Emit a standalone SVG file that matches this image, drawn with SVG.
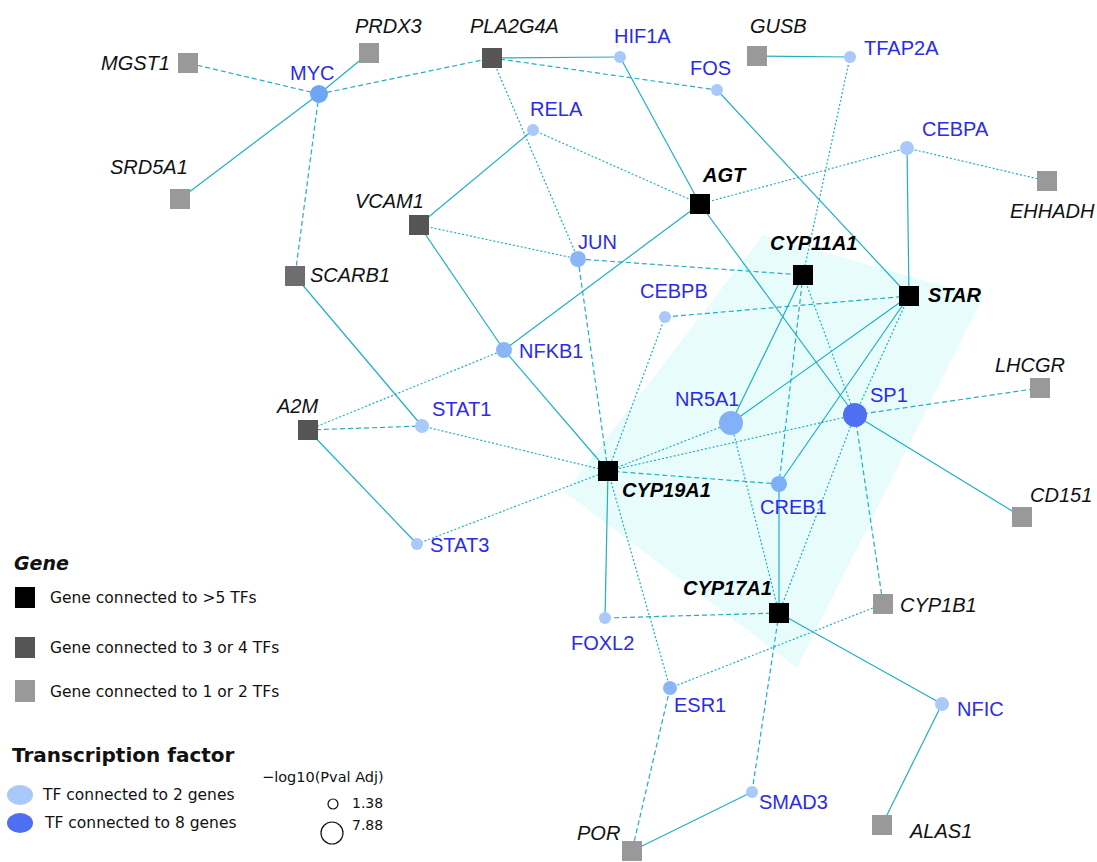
<svg xmlns="http://www.w3.org/2000/svg" width="1097" height="862" viewBox="0 0 1097 862">
<style>
.e{stroke:#1fb0c4;stroke-width:1.2;fill:none}
.d{stroke-dasharray:5 3}
.t{stroke-dasharray:2 2}
.g1{fill:#000}
.g2{fill:#555}
.g3{fill:#999}
.gl{font-family:"Liberation Sans",Arial,sans-serif;font-size:20px;font-style:italic;fill:#111}
.gb{font-family:"Liberation Sans",Arial,sans-serif;font-size:20px;font-style:italic;font-weight:bold;fill:#000}
.tl{font-family:"Liberation Sans",Arial,sans-serif;font-size:20px;fill:#2b2bea}
.c1{fill:#a9c9fa}
.c2{fill:#8ab6f8}
.c3{fill:#7eaef8}
.lg{font-family:"DejaVu Sans",Verdana,sans-serif;fill:#111}
</style>
<rect width="1097" height="862" fill="#fff"/>
<polygon id="shading" points="763,235 983,297 797,668 565,492" fill="#e9fcfc"/>
<g id="connectors">
<line class="e d" x1="319" y1="94" x2="188" y2="63"/>
<line class="e" x1="319" y1="94" x2="369" y2="53"/>
<line class="e d" x1="319" y1="94" x2="492" y2="58"/>
<line class="e" x1="319" y1="94" x2="180" y2="199"/>
<line class="e d" x1="319" y1="94" x2="295" y2="276"/>
<line class="e" x1="492" y1="58" x2="620" y2="57"/>
<line class="e d" x1="492" y1="58" x2="717" y2="90"/>
<line class="e t" x1="492" y1="58" x2="578" y2="259"/>
<line class="e" x1="620" y1="57" x2="700" y2="204"/>
<line class="e" x1="717" y1="90" x2="909" y2="296"/>
<line class="e" x1="757" y1="56" x2="850" y2="57"/>
<line class="e t" x1="850" y1="57" x2="803" y2="275"/>
<line class="e" x1="533" y1="130" x2="419" y2="225"/>
<line class="e t" x1="533" y1="130" x2="700" y2="204"/>
<line class="e t" x1="907" y1="148" x2="700" y2="204"/>
<line class="e t" x1="907" y1="148" x2="1047" y2="181"/>
<line class="e" x1="907" y1="148" x2="909" y2="296"/>
<line class="e t" x1="419" y1="225" x2="578" y2="259"/>
<line class="e" x1="419" y1="225" x2="504" y2="350"/>
<line class="e d" x1="578" y1="259" x2="803" y2="275"/>
<line class="e d" x1="578" y1="259" x2="608" y2="471"/>
<line class="e" x1="700" y1="204" x2="504" y2="350"/>
<line class="e" x1="700" y1="204" x2="855" y2="415"/>
<line class="e d" x1="665" y1="317" x2="909" y2="296"/>
<line class="e t" x1="665" y1="317" x2="608" y2="471"/>
<line class="e t" x1="504" y1="350" x2="308" y2="430"/>
<line class="e" x1="504" y1="350" x2="608" y2="471"/>
<line class="e" x1="295" y1="276" x2="422" y2="426"/>
<line class="e d" x1="308" y1="430" x2="422" y2="426"/>
<line class="e" x1="308" y1="430" x2="417" y2="544"/>
<line class="e t" x1="422" y1="426" x2="608" y2="471"/>
<line class="e t" x1="417" y1="544" x2="608" y2="471"/>
<line class="e" x1="803" y1="275" x2="731" y2="423"/>
<line class="e d" x1="803" y1="275" x2="779" y2="484"/>
<line class="e t" x1="803" y1="275" x2="855" y2="415"/>
<line class="e" x1="909" y1="296" x2="731" y2="423"/>
<line class="e" x1="909" y1="296" x2="779" y2="484"/>
<line class="e t" x1="909" y1="296" x2="855" y2="415"/>
<line class="e d" x1="855" y1="415" x2="1040" y2="388"/>
<line class="e" x1="855" y1="415" x2="1022" y2="517"/>
<line class="e t" x1="855" y1="415" x2="779" y2="613"/>
<line class="e d" x1="855" y1="415" x2="883" y2="604"/>
<line class="e t" x1="855" y1="415" x2="608" y2="471"/>
<line class="e t" x1="731" y1="423" x2="608" y2="471"/>
<line class="e t" x1="731" y1="423" x2="779" y2="613"/>
<line class="e d" x1="779" y1="484" x2="608" y2="471"/>
<line class="e" x1="779" y1="484" x2="779" y2="613"/>
<line class="e d" x1="779" y1="613" x2="605" y2="618"/>
<line class="e" x1="779" y1="613" x2="942" y2="704"/>
<line class="e d" x1="779" y1="613" x2="752" y2="792"/>
<line class="e" x1="605" y1="618" x2="608" y2="471"/>
<line class="e t" x1="670" y1="688" x2="608" y2="471"/>
<line class="e t" x1="670" y1="688" x2="883" y2="604"/>
<line class="e d" x1="670" y1="688" x2="632" y2="851"/>
<line class="e" x1="752" y1="792" x2="632" y2="851"/>
<line class="e" x1="942" y1="704" x2="882" y2="825"/>
</g>
<g id="MGST1"><rect class="g3" x="178" y="53" width="20" height="20"/><text class="gl" x="170" y="70" text-anchor="end">MGST1</text></g>
<g id="PRDX3"><rect class="g3" x="359" y="43" width="20" height="20"/><text class="gl" x="355" y="33">PRDX3</text></g>
<g id="PLA2G4A"><rect class="g2" x="482" y="48" width="20" height="20"/><text class="gl" x="470" y="33">PLA2G4A</text></g>
<g id="GUSB"><rect class="g3" x="747" y="46" width="20" height="20"/><text class="gl" x="750" y="33">GUSB</text></g>
<g id="SRD5A1"><rect class="g3" x="170" y="189" width="20" height="20"/><text class="gl" x="110" y="174">SRD5A1</text></g>
<g id="VCAM1"><rect class="g2" x="409" y="215" width="20" height="20"/><text class="gl" x="355" y="208">VCAM1</text></g>
<g id="SCARB1"><rect class="g2" x="285" y="266" width="20" height="20" style="fill:#6e6e6e"/><text class="gl" x="310" y="282">SCARB1</text></g>
<g id="AGT"><rect class="g1" x="690" y="194" width="20" height="20"/><text class="gb" x="703" y="182">AGT</text></g>
<g id="CYP11A1"><rect class="g1" x="793" y="265" width="20" height="20"/><text class="gb" x="770" y="250">CYP11A1</text></g>
<g id="STAR"><rect class="g1" x="899" y="286" width="20" height="20"/><text class="gb" x="928" y="302">STAR</text></g>
<g id="EHHADH"><rect class="g3" x="1037" y="171" width="20" height="20"/><text class="gl" x="1010" y="218">EHHADH</text></g>
<g id="LHCGR"><rect class="g3" x="1030" y="378" width="20" height="20"/><text class="gl" x="995" y="372">LHCGR</text></g>
<g id="A2M"><rect class="g2" x="298" y="420" width="20" height="20"/><text class="gl" x="277" y="413">A2M</text></g>
<g id="CYP19A1"><rect class="g1" x="598" y="461" width="20" height="20"/><text class="gb" x="622" y="497">CYP19A1</text></g>
<g id="CD151"><rect class="g3" x="1012" y="507" width="20" height="20"/><text class="gl" x="1030" y="502">CD151</text></g>
<g id="CYP17A1"><rect class="g1" x="769" y="603" width="20" height="20"/><text class="gb" x="683" y="595">CYP17A1</text></g>
<g id="CYP1B1"><rect class="g3" x="873" y="594" width="20" height="20"/><text class="gl" x="900" y="612">CYP1B1</text></g>
<g id="ALAS1"><rect class="g3" x="872" y="815" width="20" height="20"/><text class="gl" x="910" y="838">ALAS1</text></g>
<g id="POR"><rect class="g3" x="622" y="841" width="20" height="20"/><text class="gl" x="577" y="840">POR</text></g>
<g id="MYC"><circle cx="319" cy="94" r="9" fill="#6ea6f7"/><text class="tl" x="290" y="80">MYC</text></g>
<g id="HIF1A"><circle class="c1" cx="620" cy="57" r="6"/><text class="tl" x="614" y="43">HIF1A</text></g>
<g id="TFAP2A"><circle class="c1" cx="850" cy="57" r="6"/><text class="tl" x="864" y="55">TFAP2A</text></g>
<g id="FOS"><circle class="c1" cx="717" cy="90" r="6"/><text class="tl" x="690" y="75">FOS</text></g>
<g id="RELA"><circle class="c1" cx="533" cy="130" r="6"/><text class="tl" x="530" y="116">RELA</text></g>
<g id="CEBPA"><circle class="c1" cx="907" cy="148" r="7"/><text class="tl" x="922" y="136">CEBPA</text></g>
<g id="JUN"><circle class="c2" cx="578" cy="259" r="8"/><text class="tl" x="578" y="249">JUN</text></g>
<g id="CEBPB"><circle class="c1" cx="665" cy="317" r="6"/><text class="tl" x="640" y="298">CEBPB</text></g>
<g id="NFKB1"><circle class="c2" cx="504" cy="350" r="8"/><text class="tl" x="519" y="358">NFKB1</text></g>
<g id="NR5A1"><circle cx="731" cy="423" r="12" fill="#82b1f8"/><text class="tl" x="675" y="406">NR5A1</text></g>
<g id="SP1"><circle cx="855" cy="415" r="12" fill="#4f6ff2"/><text class="tl" x="870" y="402">SP1</text></g>
<g id="STAT1"><circle class="c1" cx="422" cy="426" r="7"/><text class="tl" x="432" y="416">STAT1</text></g>
<g id="CREB1"><circle class="c3" cx="779" cy="484" r="8"/><text class="tl" x="760" y="514">CREB1</text></g>
<g id="STAT3"><circle class="c1" cx="417" cy="544" r="6"/><text class="tl" x="430" y="552">STAT3</text></g>
<g id="FOXL2"><circle class="c1" cx="605" cy="618" r="6"/><text class="tl" x="571" y="650">FOXL2</text></g>
<g id="ESR1"><circle class="c2" cx="670" cy="688" r="7"/><text class="tl" x="674" y="712">ESR1</text></g>
<g id="NFIC"><circle class="c1" cx="942" cy="704" r="7"/><text class="tl" x="957" y="716">NFIC</text></g>
<g id="SMAD3"><circle class="c1" cx="752" cy="792" r="6"/><text class="tl" x="759" y="809">SMAD3</text></g>
<g id="legend">
<text class="lg" x="14" y="570" font-size="19" font-weight="bold" font-style="italic">Gene</text>
<rect x="15" y="587" width="20" height="21" fill="#000"/>
<text class="lg" x="50" y="603" font-size="15.5">Gene connected to &gt;5 TFs</text>
<rect x="15" y="637" width="20" height="21" fill="#555"/>
<text class="lg" x="50" y="653" font-size="15.5">Gene connected to 3 or 4 TFs</text>
<rect x="15" y="680" width="20" height="22" fill="#999"/>
<text class="lg" x="50" y="697" font-size="15.5">Gene connected to 1 or 2 TFs</text>
<text class="lg" x="12" y="762" font-size="20" font-weight="bold">Transcription factor</text>
<ellipse cx="20" cy="795" rx="13" ry="10" fill="#a9c9fa"/>
<text class="lg" x="43" y="800" font-size="15.5">TF connected to 2 genes</text>
<ellipse cx="20" cy="823" rx="13" ry="10" fill="#4f6ff2"/>
<text class="lg" x="45" y="828" font-size="15.5">TF connected to 8 genes</text>
<text class="lg" x="262" y="782" font-size="14.5">−log10(Pval Adj)</text>
<circle cx="333" cy="804" r="5" fill="none" stroke="#111" stroke-width="1.2"/>
<text class="lg" x="352" y="808" font-size="14">1.38</text>
<circle cx="332" cy="833" r="11" fill="none" stroke="#111" stroke-width="1.2"/>
<text class="lg" x="352" y="830" font-size="14">7.88</text>
</g>
</svg>
